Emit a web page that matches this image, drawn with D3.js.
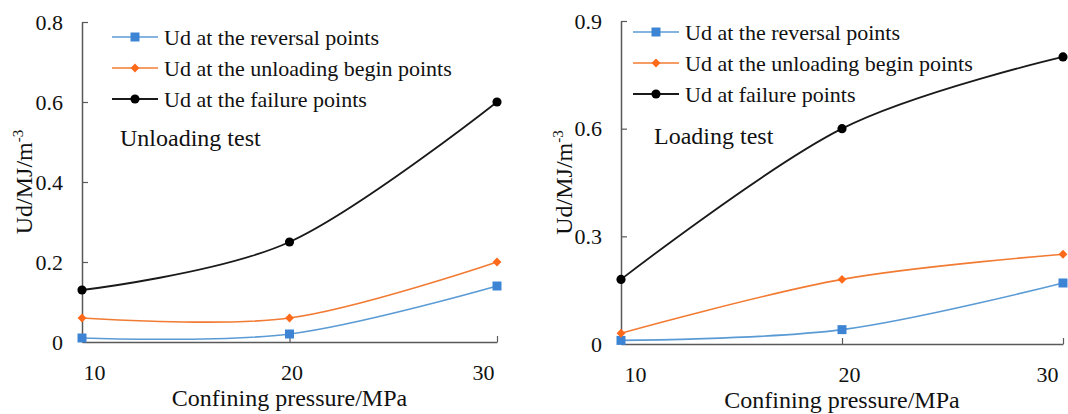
<!DOCTYPE html>
<html>
<head>
<meta charset="utf-8">
<script src="https://cdn.jsdelivr.net/npm/d3@7"></script>
<style>
  body { margin: 0; background: #fff; }
  svg { display: block; }
</style>
</head>
<body>
<svg id="chart" width="1068" height="414"></svg>
<script>
// confining pressure categories (MPa)
const pressures = [10, 20, 30];

// unloading test (left panel)
const unloadReversal = [0.01, 0.02, 0.14];
const unloadBegin = [0.06, 0.06, 0.2];
const unloadFailure = [0.13, 0.25, 0.6];
const unloadTicks = [0, 0.2, 0.4, 0.6, 0.8];
const unloadNames = ['Ud at the reversal points', 'Ud at the unloading begin points', 'Ud at the failure points'];

// loading test (right panel)
const loadReversal = [0.01, 0.04, 0.17];
const loadBegin = [0.03, 0.18, 0.25];
const loadFailure = [0.18, 0.6, 0.8];
const loadTicks = [0, 0.3, 0.6, 0.9];
const loadNames = ['Ud at the reversal points', 'Ud at the unloading begin points', 'Ud at failure points'];

const FONT = '"Liberation Serif", "Times New Roman", serif';
const colors = ['#5b9bd5', '#f27b34', '#1a1a1a'];
const markColors = ['#3d85d4', '#ff6a1a', '#000'];
const symbols = [d3.symbolSquare, d3.symbolDiamond2, d3.symbolCircle];
const symSizes = [81, 50, 66];

const svg = d3.select('#chart');

function drawPanel(p) {
  const x = d3.scaleLinear().domain([10, 30]).range([p.left, p.right]);
  const y = d3.scaleLinear().domain([0, p.ymax]).range([p.bottom, p.top]);
  const g = svg.append('g').style('font-family', FONT);

  // x axis (inside ticks)
  const xa = g.append('g')
    .attr('transform', `translate(0,${p.bottom})`)
    .call(d3.axisBottom(x).tickValues(pressures).tickSize(-6).tickSizeOuter(0).tickPadding(22));
  xa.select('.domain').attr('stroke', '#595959').attr('stroke-width', 1.5);
  xa.selectAll('.tick line').attr('stroke', '#595959').attr('stroke-width', 1.2)
    .filter(d => d === 10).remove();
  xa.selectAll('.tick text')
    .style('font-family', FONT)
    .attr('font-size', 22).attr('fill', '#111')
    .attr('dx', (d, i) => p.xdx[i]);

  // y axis (inside ticks)
  const ya = g.append('g')
    .attr('transform', `translate(${p.left},0)`)
    .call(d3.axisLeft(y).tickValues(p.ticks).tickSize(-6).tickSizeOuter(0).tickPadding(19)
      .tickFormat(d => d === 0 ? '0' : d3.format('.1f')(d)));
  ya.select('.domain').attr('stroke', '#595959').attr('stroke-width', 1.5);
  ya.selectAll('.tick line').attr('stroke', '#595959').attr('stroke-width', 1.2)
    .filter(d => d === 0).remove();
  ya.selectAll('.tick text')
    .style('font-family', FONT)
    .attr('font-size', 22).attr('fill', '#111');

  // axis titles
  g.append('text')
    .attr('x', (p.left + p.right) / 2).attr('y', p.bottom + 64)
    .attr('text-anchor', 'middle').attr('font-size', 24).attr('fill', '#111')
    .text('Confining pressure/MPa');

  const yt = g.append('text')
    .attr('transform', `translate(${p.ylabelX},${(p.top + p.bottom) / 2}) rotate(-90)`)
    .attr('text-anchor', 'middle').attr('font-size', 24).attr('fill', '#111');
  yt.append('tspan').text('Ud/MJ/m');
  yt.append('tspan').attr('dy', -9).attr('font-size', 15).text('-3');

  // series
  const line = d3.line()
    .x((d, i) => x(pressures[i]))
    .y(d => y(d))
    .curve(d3.curveCardinal.tension(0));

  p.series.forEach((vals, k) => {
    g.append('path')
      .attr('d', line(vals))
      .attr('fill', 'none')
      .attr('stroke', colors[k])
      .attr('stroke-width', k === 2 ? 1.8 : 1.6);
    g.selectAll(null).data(vals).join('path')
      .attr('transform', (d, i) => `translate(${x(pressures[i])},${y(d)})`)
      .attr('d', d3.symbol().type(symbols[k]).size(symSizes[k]))
      .attr('fill', markColors[k]);
  });

  // legend
  p.names.forEach((name, k) => {
    const ly = p.legY + k * 31;
    const lg = g.append('g');
    lg.append('line')
      .attr('x1', p.legX).attr('x2', p.legX + 46)
      .attr('y1', ly).attr('y2', ly)
      .attr('stroke', colors[k]).attr('stroke-width', k === 2 ? 2 : 1.6);
    lg.append('path')
      .attr('transform', `translate(${p.legX + 23},${ly})`)
      .attr('d', d3.symbol().type(symbols[k]).size(symSizes[k]))
      .attr('fill', markColors[k]);
    lg.append('text')
      .attr('x', p.legX + 52).attr('y', ly)
      .attr('dy', '0.35em').attr('font-size', 22).attr('fill', '#111')
      .text(name);
  });

  g.append('text')
    .attr('x', p.noteX).attr('y', p.noteY)
    .attr('dy', '0.35em').attr('font-size', 24).attr('fill', '#111')
    .text(p.note);
}

drawPanel({
  left: 82, right: 497, top: 22, bottom: 342, ymax: 0.8,
  ticks: unloadTicks, xdx: [12, 2, -14], ylabelX: 32,
  series: [unloadReversal, unloadBegin, unloadFailure], names: unloadNames,
  legX: 112, legY: 37, note: 'Unloading test', noteX: 120, noteY: 138
});

drawPanel({
  left: 621, right: 1063, top: 21, bottom: 344, ymax: 0.9,
  ticks: loadTicks, xdx: [14, 7, -16], ylabelX: 572,
  series: [loadReversal, loadBegin, loadFailure], names: loadNames,
  legX: 633, legY: 32, note: 'Loading test', noteX: 654, noteY: 136
});
</script>
</body>
</html>
